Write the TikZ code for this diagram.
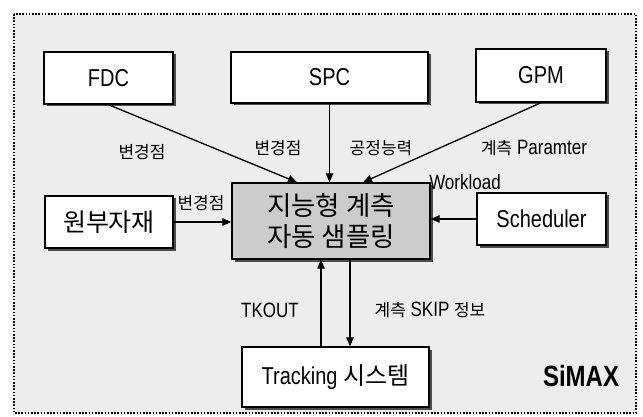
\documentclass[tikz,border=0pt]{standalone}
\usepackage{fontspec}
\setmainfont{Liberation Sans}
\newfontfamily\kr{Noto Sans CJK KR}
\usetikzlibrary{arrows.meta,shadows}
\newcommand{\vst}[1]{\scalebox{1}[1.22]{#1}}
\begin{document}
\begin{tikzpicture}[x=1pt,y=-1pt,
  box/.style={draw=black,line width=1.4pt,fill=white,inner sep=0pt,
    drop shadow={shadow xshift=2.5pt,shadow yshift=-2.5pt,fill=black!70,opacity=1}},
  boxtxt/.style={font=\fontsize{20}{22}\selectfont},
  krtxt/.style={font=\kr\fontsize{25}{32}\selectfont},
  lbl/.style={inner sep=0pt,font=\fontsize{17}{19}\selectfont},
  conn/.style={line width=1.3pt,-{Triangle[length=9pt,width=7.5pt]}}]
\useasboundingbox (0,0) rectangle (643,417);
% background and dotted frame
\fill[gray!14] (14,14) rectangle (636,413);
\draw[line width=1.6pt,dash pattern=on 1.6pt off 1.6pt] (14,14) rectangle (636,413);
% boxes
\node[box,boxtxt,minimum width=129pt,minimum height=52pt] (fdc) at (108.5,78) {\vst{FDC}};
\node[box,boxtxt,minimum width=197pt,minimum height=51pt] (spc) at (329.5,77.5) {\vst{SPC}};
\node[box,boxtxt,minimum width=130pt,minimum height=53pt] (gpm) at (541,75.5) {\vst{GPM}};
\node[box,krtxt,minimum width=128pt,minimum height=52pt] (raw) at (109,222) {원부자재};
\node[box,krtxt,font=\kr\fontsize{26.5}{32}\selectfont,fill=gray!40,minimum width=198pt,minimum height=76pt,align=center] (core) at (331,221) {지능형 계측\\[-1pt]자동 샘플링};
\node[box,boxtxt,minimum width=129pt,minimum height=52pt] (sch) at (541.5,219) {\vst{Scheduler}};
\node[box,boxtxt,minimum width=187pt,minimum height=60pt] (trk) at (335.5,377) {\vst{Tracking} {\kr\fontsize{24}{26}\selectfont 시스템}};
% connectors
\draw[conn] (fdc.south) -- ([xshift=-34pt]core.north);
\draw[conn] (spc.south) -- (spc.south |- core.north);
\draw[conn] (gpm.south) -- ([xshift=32pt]core.north);
\draw[conn] (raw.east) -- (raw.east -| core.west);
\draw[conn] (sch.west) -- (sch.west -| core.east);
\coordinate (upx) at ([xshift=-10pt]core.south);
\coordinate (dnx) at ([xshift=19pt]core.south);
\draw[conn] (upx |- trk.north) -- (upx);
\draw[conn] (dnx) -- (dnx |- trk.north);
% labels
\node[lbl] (l1) at (142,152) {\kr 변경점};
\node[lbl] (l2) at (278,148) {\kr 변경점};
\node[lbl] (l3) at (381,148) {\kr 공정능력};
\node[lbl] (l4) at (534,148) {{\kr 계측} \vst{Paramter}};
\node[lbl] (l5) at (465,182) {\vst{Workload}};
\node[lbl] (l6) at (201,203) {\kr 변경점};
\node[lbl] (l7) at (270,310) {\vst{TKOUT}};
\node[lbl] (l8) at (430,310) {{\kr 계측} \vst{SKIP} {\kr 정보}};
\node[inner sep=0pt,font=\bfseries\fontsize{24}{26}\selectfont] (simax) at (581,376) {\vst{SiMAX}};
\end{tikzpicture}
\end{document}
